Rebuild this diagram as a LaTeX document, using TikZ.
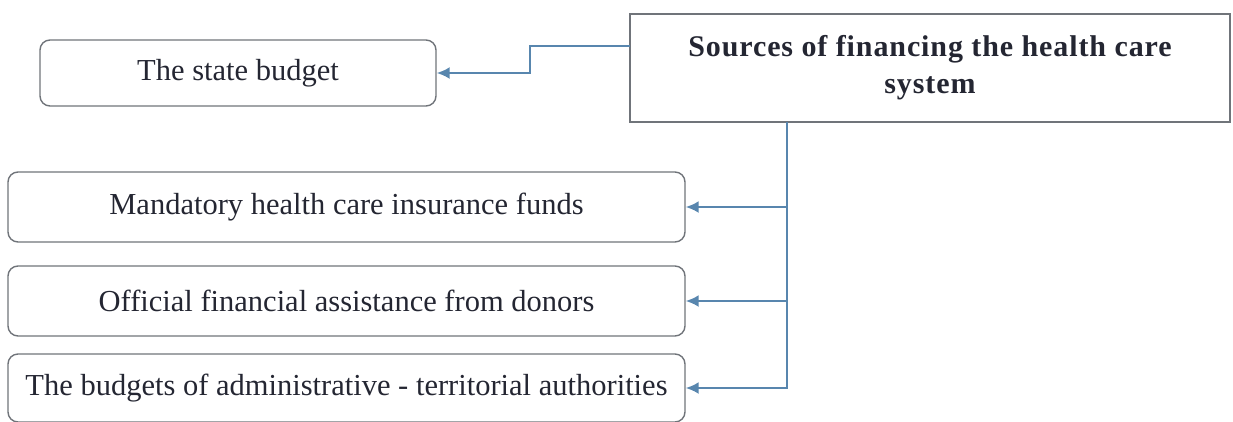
\documentclass[tikz,border=0pt]{standalone}
\usepackage{fontspec}
\setmainfont{Liberation Serif}
\usetikzlibrary{arrows.meta}
\usetikzlibrary{positioning}
\definecolor{linkblue}{RGB}{88,134,174}
\definecolor{boxgray}{RGB}{112,116,122}
\definecolor{inkgray}{RGB}{36,38,50}

\begin{document}
\begin{tikzpicture}[x=1pt,y=-1pt,
    source/.style={draw=boxgray, line width=1.4pt, rounded corners=10pt,
                   text=inkgray, font=\fontsize{30.5}{36}\selectfont},
    mainbox/.style={draw=boxgray, line width=1.4pt, text=inkgray, align=center,
                    font=\fontsize{30}{37}\selectfont\bfseries\addfontfeature{LetterSpace=3}},
    link/.style={draw=linkblue, line width=2.2pt, -{Latex[length=13pt,width=12pt]}}]

\useasboundingbox (0,0) rectangle (1233,421);

%---------------------------------------
% Boxes
%---------------------------------------
\node[mainbox, minimum width=600pt, minimum height=108pt] (src) at (930,68)
  {Sources of financing the health care\\system};

\node[source, minimum width=396pt, minimum height=66pt] (state) at (238,73)
  {The state budget};

\node[source, minimum width=677pt, minimum height=70pt] (mand) at (346.5,207)
  {Mandatory health care insurance funds};
\node[source, minimum width=677pt, minimum height=70pt] (offic) at (346.5,301)
  {Official financial assistance from donors};
\node[source, minimum width=677pt, minimum height=68pt] (budg) at (346.5,388)
  {The budgets of administrative - territorial authorities};

%---------------------------------------
% Connectors
%---------------------------------------
\coordinate (out) at (630,46);
\coordinate (bend) at (530,46);
\coordinate (trunk) at (787,122);

\draw[link] (out) -- (bend) |- (state.east);
\draw[link] (trunk) |- (mand.east);
\draw[link] (trunk) |- (offic.east);
\draw[link] (trunk) |- (budg.east);

\end{tikzpicture}
\end{document}
